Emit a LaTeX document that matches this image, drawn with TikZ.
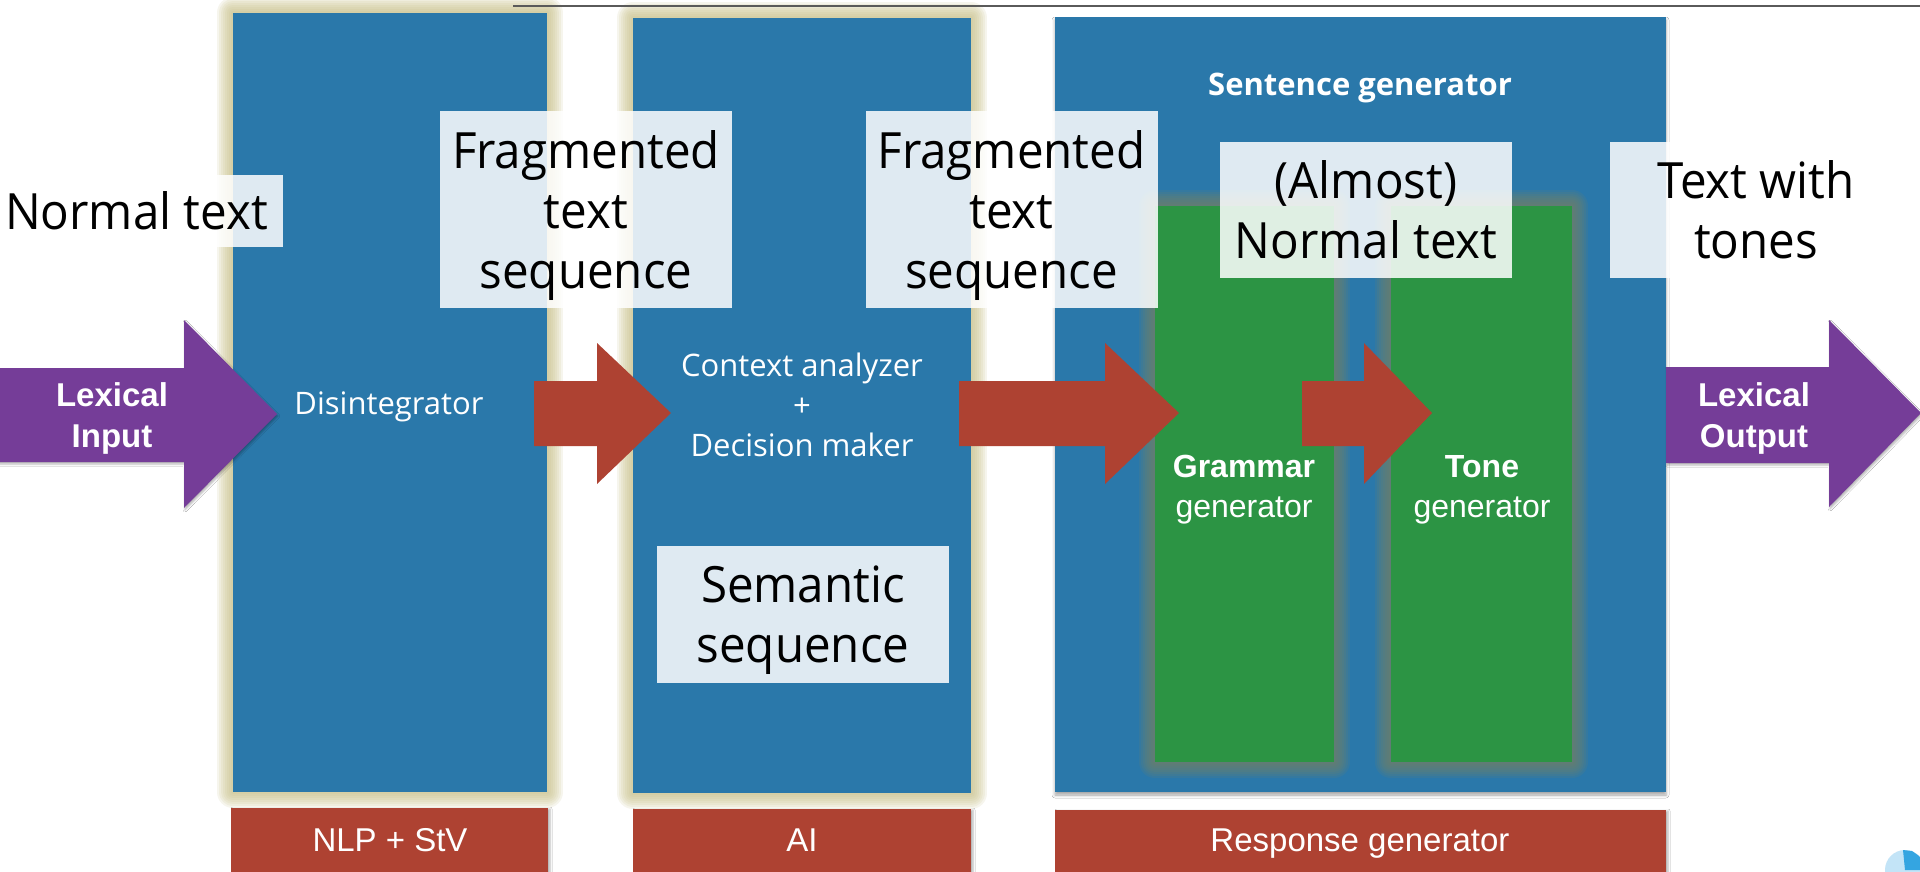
\documentclass[tikz,border=0pt]{standalone}
\usepackage{fontspec}
\setmainfont{Open Sans}
\newfontfamily\lblfont[FakeStretch=0.95]{Open Sans}
\newfontfamily\helv{Liberation Sans}
\usetikzlibrary{shadows.blur}
\definecolor{boxblue}{RGB}{42,120,170}
\definecolor{boxgreen}{RGB}{44,148,68}
\definecolor{boxred}{RGB}{174,66,50}
\definecolor{arrpurple}{RGB}{117,61,152}
\definecolor{goldglow}{RGB}{200,192,135}
\definecolor{greenglow}{RGB}{120,130,100}
\definecolor{topline}{RGB}{90,90,90}
\definecolor{pielight}{RGB}{195,228,247}
\definecolor{piedark}{RGB}{52,165,225}
\tikzset{
  panel/.style={fill=boxblue, draw=none, anchor=north west, inner sep=0pt, outer sep=0pt},
  gpanel/.style={fill=boxgreen, draw=none, anchor=north west, inner sep=0pt, outer sep=0pt},
  redbox/.style={fill=boxred, draw=none, anchor=north west, inner sep=0pt, outer sep=0pt,
    blur shadow={shadow xshift=2pt, shadow yshift=-1pt, shadow blur radius=2pt, shadow opacity=30}},
  boxshadow/.style={blur shadow={shadow xshift=0pt, shadow yshift=-3pt, shadow blur radius=3pt, shadow opacity=35}},
  halo/.style args={#1}{
    preaction={draw=#1, draw opacity=0.15, line width=32pt, line join=round},
    preaction={draw=#1, draw opacity=0.15, line width=28pt, line join=round},
    preaction={draw=#1, draw opacity=0.15, line width=24pt, line join=round},
    preaction={draw=#1, draw opacity=0.15, line width=20pt, line join=round},
    preaction={draw=#1, draw opacity=0.15, line width=16pt, line join=round},
    preaction={draw=#1, draw opacity=0.15, line width=12pt, line join=round},
    preaction={draw=#1, draw opacity=0.15, line width=8pt, line join=round},
    preaction={draw=#1, draw opacity=0.15, line width=4pt, line join=round}},
  goldhalo/.style={halo=goldglow},
  greenhalo/.style={halo=greenglow},
  arrowshadow/.style={blur shadow={shadow xshift=1pt, shadow yshift=-2pt, shadow blur radius=2pt, shadow opacity=30}},
  lbl/.style={fill=white, fill opacity=0.85, text opacity=1, text=black, inner sep=0pt,
    minimum width=292pt, align=center, font=\lblfont\fontsize{50}{60}\selectfont},
  wtxt/.style={text=white, inner sep=0pt, align=center, font=\fontsize{31}{40}\selectfont},
  wbold/.style={text=white, inner sep=0pt, align=center, font=\bfseries\fontsize{31}{40}\selectfont},
  arrtxt/.style={text=white, inner sep=0pt, align=center, font=\helv\bfseries\fontsize{33}{41}\selectfont},
  gtxt/.style={text=white, inner sep=0pt, align=center, font=\helv\fontsize{32}{40}\selectfont},
  redtxt/.style={text=white, inner sep=0pt, font=\helv\fontsize{33}{40}\selectfont},
}
\begin{document}
\begin{tikzpicture}[x=1pt,y=-1pt]
\useasboundingbox (0,0) rectangle (1920,872);
\clip (0,0) rectangle (1920,872);
\fill[white] (0,0) rectangle (1920,872);

% panels
\node[panel, goldhalo, minimum width=314pt, minimum height=779pt] (dis) at (233,13) {};
\node[panel, goldhalo, minimum width=338pt, minimum height=775pt] (ctx) at (633,18) {};
\node[panel, boxshadow, minimum width=611pt, minimum height=775pt] (sen) at (1055,17) {};
\node[gpanel, greenhalo, minimum width=179pt, minimum height=556pt] (gram) at (1155,206) {};
\node[gpanel, greenhalo, minimum width=181pt, minimum height=556pt] (tone) at (1391,206) {};

% top line
\draw[topline, line width=2pt] (513,6) -- (1920,6);

% bottom red boxes
\node[redbox, minimum width=317pt, minimum height=75pt] (nlp) at (231,808) {};
\node[redbox, minimum width=338pt, minimum height=75pt] (ai) at (633,809) {};
\node[redbox, minimum width=611pt, minimum height=75pt] (resp) at (1055,810) {};
\node[redtxt, anchor=base] (nlpt) at (390,851) {NLP + StV};
\node[redtxt, anchor=base] (ait) at (802,851) {AI};
\node[redtxt, anchor=base] (respt) at (1360,851) {Response generator};

% block arrows
\fill[arrpurple, arrowshadow] (-5,368) -- (184,368) -- (184,320) -- (277,414) -- (184,508) -- (184,462) -- (-5,462) -- cycle;
\fill[arrpurple, arrowshadow] (1666,367) -- (1829,367) -- (1829,320) -- (1921,413) -- (1829,507) -- (1829,463) -- (1666,463) -- cycle;
\fill[boxred] (534,381) -- (597,381) -- (597,343) -- (671,413) -- (597,484) -- (597,446) -- (534,446) -- cycle;
\fill[boxred] (959,381) -- (1105,381) -- (1105,343) -- (1179,413) -- (1105,484) -- (1105,446) -- (959,446) -- cycle;
\fill[boxred] (1302,381) -- (1364,381) -- (1364,343) -- (1432,413) -- (1364,484) -- (1364,446) -- (1302,446) -- cycle;

% arrow texts
\node[arrtxt] (lexin) at (112,418) {Lexical\\Input};
\node[arrtxt] (lexout) at (1754,418) {Lexical\\Output};

% panel texts
\node[wtxt, anchor=base] (dist) at (389,414) {Disintegrator};
\node[wtxt] (ctxt) at (802,405) {Context analyzer\\+\\Decision maker};
\node[wbold, anchor=base] (sent) at (1360,96) {Sentence generator};
\node[gtxt] (gramt) at (1244,490) {\textbf{Grammar}\\generator};
\node[gtxt] (tonet) at (1482,490) {\textbf{Tone}\\generator};

% label boxes
\node[lbl, minimum width=293pt, minimum height=72pt] (l1) at (136.5,211) {Normal text};
\node[lbl, minimum height=197pt, text depth=0pt] (l2) at (586,209.5) {Fragmented\\text\\sequence};
\node[lbl, minimum height=197pt, text depth=0pt] (l3) at (1011.5,209.5) {Fragmented\\text\\sequence};
\node[lbl, minimum height=136pt] (l4) at (1366,210) {(Almost)\\Normal text};
\node[lbl, minimum height=136pt] (l5) at (1756,210) {Text with\\tones};
\node[lbl, minimum height=137pt, text depth=0pt] (l6) at (803,614.5) {Semantic\\sequence};

% spinner icon
\fill[pielight] (1905,870) circle[radius=20];
\fill[piedark] (1905,870) -- (1903,850) -- (1912,851) -- (1919,856) -- (1924,863) -- (1925,870) -- cycle;
\end{tikzpicture}
\end{document}
